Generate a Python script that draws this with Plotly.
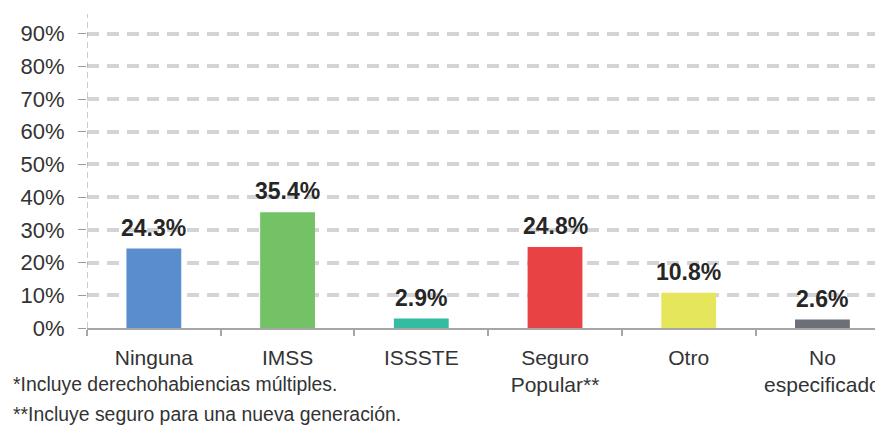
import plotly.graph_objects as go

categories = ["Ninguna", "IMSS", "ISSSTE", "Seguro<br>Popular**", "Otro", "No<br>especificado"]
values = [24.3, 35.4, 2.9, 24.8, 10.8, 2.6]
colors = ["#5a8dcb", "#73c266", "#33bca2", "#e84244", "#e6e65c", "#6b6f78"]
y_ticks = [0, 10, 20, 30, 40, 50, 60, 70, 80, 90]
footnotes = ["*Incluye derechohabiencias múltiples.", "**Incluye seguro para una nueva generación."]

FONT = "Liberation Sans, Arial, sans-serif"

fig = go.Figure()
fig.add_trace(go.Bar(
    x=categories, y=values, marker=dict(color=colors, line=dict(width=0)),
    width=0.41, hoverinfo="skip",
))

for c, v in zip(categories, values):
    fig.add_annotation(x=c, y=v, text=f"<b>{v:.1f}%</b>", showarrow=False,
                       yanchor="bottom", yshift=6,
                       font=dict(family=FONT, size=23, color="#262626"))

fig.add_shape(type="line", xref="x", yref="y", x0=-0.5, x1=-0.5, y0=0, y1=96,
              line=dict(color="#9a9a9a", width=1, dash="6px,4px"), layer="above")

fig.add_annotation(xref="paper", yref="paper", x=-0.095, y=-0.178, xanchor="left",
                   yanchor="middle", text=footnotes[0], showarrow=False,
                   font=dict(family=FONT, size=19.4, color="#333333"))
fig.add_annotation(xref="paper", yref="paper", x=-0.095, y=-0.274, xanchor="left",
                   yanchor="middle", text=footnotes[1], showarrow=False,
                   font=dict(family=FONT, size=19.4, color="#333333"))

# page body has an 8px margin; compensate so the plot lands where the reference has it
fig.update_layout(
    width=875, height=421,
    margin=dict(l=79, r=0, t=6, b=101),
    paper_bgcolor="white", plot_bgcolor="white",
    showlegend=False,
    bargap=0.59,
    xaxis=dict(
        type="category", range=[-0.5, 5.453], automargin=False,
        showline=True, linecolor="#a6a6a6", linewidth=1.5,
        ticks="outside", tickson="boundaries", ticklen=6, tickcolor="#a6a6a6",
        tickwidth=1.5, showgrid=False,
        tickfont=dict(family=FONT, size=21, color="#333333"),
        ticklabelstandoff=10,
    ),
    yaxis=dict(
        range=[0, 96], tickvals=y_ticks, ticktext=[f"{t}%" for t in y_ticks],
        showline=False, zeroline=False, automargin=False,
        ticks="outside", ticklen=8, tickcolor="#9a9a9a", tickwidth=1,
        showgrid=True, gridcolor="#d4d4d6", gridwidth=4, griddash="12px,8px",
        tickfont=dict(family=FONT, size=22, color="#333333"),
        ticklabelstandoff=9,
    ),
)

fig.write_html("out.html")
